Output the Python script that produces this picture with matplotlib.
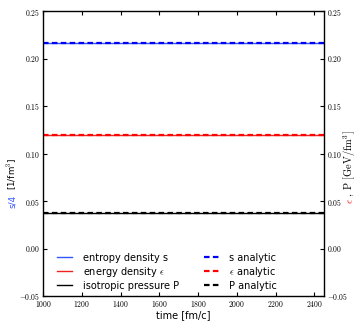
import matplotlib
matplotlib.use('Agg')
import matplotlib.pyplot as plt

# time grid and constant values of the static medium
time = [1000, 1250, 1500, 1750, 2000, 2250, 2500]
s_quarter = [0.216, 0.216, 0.216, 0.216, 0.216, 0.216, 0.216]
energy = [0.119, 0.119, 0.119, 0.119, 0.119, 0.119, 0.119]
pressure = [0.037, 0.037, 0.037, 0.037, 0.037, 0.037, 0.037]
s_analytic = 0.216
e_analytic = 0.119
p_analytic = 0.037
xticks = [1000, 1200, 1400, 1600, 1800, 2000, 2200, 2400]
yticks = [-0.05, 0.0, 0.05, 0.1, 0.15, 0.2, 0.25]

plt.rcParams['mathtext.fontset'] = 'cm'

fig = plt.figure(figsize=(3.6, 3.21), dpi=100)
ax = fig.add_axes([43 / 360, 25 / 321, 281 / 360, 285 / 321])

ax.plot(time, s_quarter, color='#3355ff', lw=1.0, label='entropy density s')
ax.plot(time, energy, color='#ee2222', lw=1.0, label='energy density $\\epsilon$')
ax.plot(time, pressure, color='black', lw=1.0, label='isotropic pressure P')
dash = (0, (2.5, 1.5))
ax.plot(time, [s_analytic] * len(time), color='#0000ee', ls=dash, lw=1.6, label='s analytic')
ax.plot(time, [e_analytic] * len(time), color='red', ls=dash, lw=1.6, label='$\\epsilon$ analytic')
ax.plot(time, [p_analytic] * len(time), color='black', ls=dash, lw=1.6, label='P analytic')

ax.set_xlim(1000, 2450)
ax.set_ylim(-0.05, 0.25)
ax.set_xticks(xticks)
ax.set_xticklabels(['$%d$' % t for t in xticks])
ax.set_yticks(yticks)
ax.set_yticklabels(['$%.2f$' % v if v >= 0 else '$-%.2f$' % -v for v in yticks])
ax.tick_params(direction='in', labelsize=5.5, top=True, right=True, labelright=True,
               length=3, width=0.8, pad=2)
for sp in ax.spines.values():
    sp.set_linewidth(1.0)

ax.set_xlabel('time [fm/c]', fontsize=7, labelpad=1)

fig.text(0.034, 0.372, 's/4', color='#3355ff', fontsize=6.3, rotation=90, ha='center', va='center')
fig.text(0.034, 0.458, '[1/fm$^3$]', color='black', fontsize=6.3, rotation=90, ha='center', va='center')
fig.text(0.972, 0.374, '$\\epsilon$', color='red', fontsize=7.5, rotation=90, ha='center', va='center')
fig.text(0.972, 0.49, '$,\\ \\mathrm{P}\\ [\\mathrm{GeV/fm^3}]$', color='black', fontsize=7.5,
         rotation=90, ha='center', va='center')

ax.legend(ncol=2, loc='lower left', frameon=False, fontsize=7, handlelength=1.5,
          handletextpad=1.1, columnspacing=2.6, labelspacing=0.2,
          bbox_to_anchor=(0.02, -0.012))

fig.savefig('out.png', dpi=100)
